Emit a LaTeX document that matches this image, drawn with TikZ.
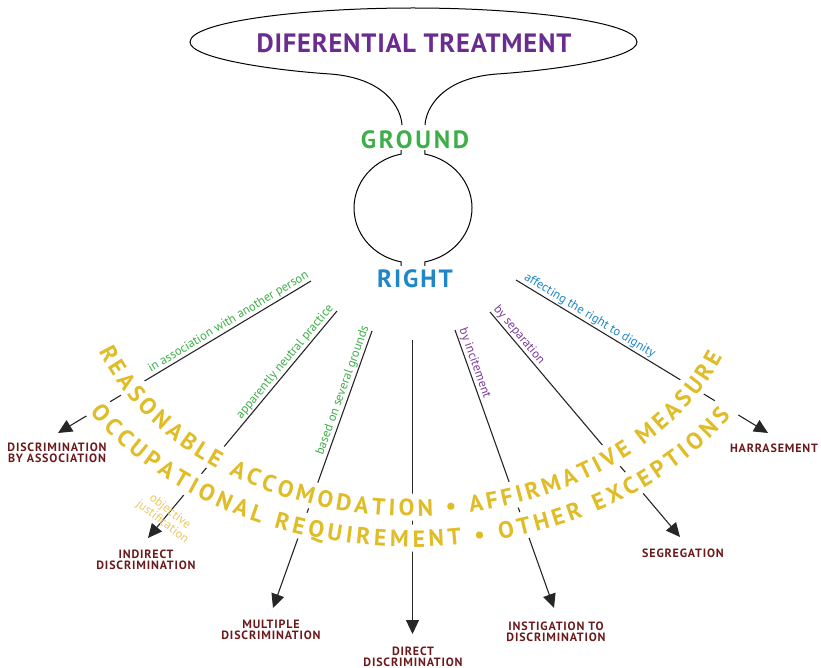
\documentclass[tikz,border=0pt]{standalone}
\usepackage{fontspec}
\setmainfont{PT Sans}
\newfontfamily\trackA[LetterSpace=3]{PT Sans}
\newfontfamily\trackB[LetterSpace=11]{PT Sans}
\newfontfamily\trackC[LetterSpace=8]{PT Sans}
\newfontfamily\trackR[LetterSpace=7]{PT Sans}
\usetikzlibrary{decorations.text,arrows.meta,calc}
\definecolor{ttl}{HTML}{6A2C8E}
\definecolor{grn}{HTML}{3DAE49}
\definecolor{blu}{HTML}{1D87C8}
\definecolor{resred}{HTML}{6B1A1C}
\definecolor{arcyel}{HTML}{E0BC26}
\definecolor{ltyel}{HTML}{E9C965}
\definecolor{pur}{HTML}{7B3B97}
\newcommand\arcfont{\bfseries\fontsize{23.5}{26}\selectfont}
\begin{document}
\begin{tikzpicture}[x=1pt,y=1pt,
  conn/.style={line width=1.1pt, black!85},
  arr/.style={conn, -{Triangle[length=14pt,width=13pt]}},
  halo/.style={white, line width=27pt},
  res/.style={font=\trackR\bfseries\fontsize{12}{11}\selectfont, text=resred, align=center, inner sep=0pt, anchor=north},
  lab/.style={font=\fontsize{12.5}{13}\selectfont, inner sep=1.5pt, anchor=south},
  big/.style={inner sep=0pt}
]
\useasboundingbox (0,0) rectangle (821,-668);

% balloon
\draw[line width=1pt] (402,-125) .. controls (401,-108) and (385,-78) .. (330,-74)
  .. controls (270,-70) and (190,-58) .. (190,-42)
  .. controls (190,-22) and (300,-8) .. (413,-8)
  .. controls (526,-8) and (637,-22) .. (637,-42)
  .. controls (637,-58) and (557,-70) .. (497,-74)
  .. controls (442,-78) and (426,-108) .. (425,-125);

% circle
\draw[line width=1pt] ([shift={(413,-208)}]101.5:59 and 55) ++(0,4) -- ++(0,-4)
  arc[start angle=101.5, end angle=258.5, x radius=59, y radius=55] -- ++(0,-4);
\draw[line width=1pt] ([shift={(413,-208)}]78.5:59 and 55) ++(0,4) -- ++(0,-4)
  arc[start angle=78.5, end angle=-78.5, x radius=59, y radius=55] -- ++(0,-4);

\node[big, text=ttl, font=\trackA\bfseries\fontsize{26.5}{30}\selectfont] (title) at (414,-43) {DIFERENTIAL TREATMENT};
\node[big, text=grn, font=\trackB\bfseries\fontsize{25}{30}\selectfont] (ground) at (415,-140) {GROUND};
\node[big, text=blu, font=\trackC\bfseries\fontsize{25}{30}\selectfont] (right) at (415,-279) {RIGHT};

% coordinates
\coordinate (s1) at (311,-281); \coordinate (t1) at (58,-433);
\coordinate (s2) at (337,-311); \coordinate (t2) at (148,-538);
\coordinate (s3) at (372,-331); \coordinate (t3) at (273,-608);
\coordinate (s4) at (412.5,-340); \coordinate (t4) at (412.5,-634);
\coordinate (s5) at (455,-330); \coordinate (t5) at (554,-608);
\coordinate (s6) at (490,-312); \coordinate (t6) at (680,-537);
\coordinate (s7) at (516,-280); \coordinate (t7) at (768,-433);

\foreach \i in {1,...,7} { \draw[arr] (s\i) -- (t\i); }

% white halos under arc text
\draw[halo] ([shift={(412,-261)}]197:326 and 246) arc[start angle=197, end angle=341, x radius=326, y radius=246];
\draw[halo] ([shift={(412,-261)}]208:371 and 277) arc[start angle=208, end angle=331, x radius=371, y radius=277];

% arc texts
\path[decorate, decoration={text along path, text={|\arcfont|REASONABLE ACCOMODATION • AFFIRMATIVE MEASURE}, text align={fit to path}, text color=arcyel}]
  ([shift={(412,-261)}]200.7:335 and 255) arc[start angle=200.7, end angle=338, x radius=335, y radius=255];
\path[decorate, decoration={text along path, text={|\arcfont|OCCUPATIONAL REQUIREMENT • OTHER EXCEPTIONS}, text align={fit to path}, text color=arcyel}]
  ([shift={(412,-261)}]212:380 and 286) arc[start angle=212, end angle=327, x radius=380, y radius=286];

% labels along lines
\path (t1) -- (s1) node[lab, text=grn, pos=0.689, rotate=31.0] (la1) {in association with another person};
\path (t2) -- (s2) node[lab, text=grn, pos=0.755, rotate=50.2] (la2) {apparently neutral practice};
\path (t3) -- (s3) node[lab, text=grn, pos=0.776, rotate=70.3] (la3) {based on several grounds};
\path (s5) -- (t5) node[lab, text=pur, pos=0.128, rotate=-70.4] (la5) {by incitement};
\path (s6) -- (t6) node[lab, text=pur, pos=0.123, rotate=-49.8] (la6) {by separation};
\path (s7) -- (t7) node[lab, text=blu, pos=0.277, rotate=-31.3] (la7) {affecting the right to dignity};

\node[font=\fontsize{12.5}{12.5}\selectfont, text=ltyel, align=center, rotate=-38, inner sep=0pt] (obj) at (166,-517) {objective\\justification};

% result labels
\node[res] (r1) at (57,-443) {DISCRIMINATION\\BY ASSOCIATION};
\node[res] (r2) at (146,-550) {INDIRECT\\DISCRIMINATION};
\node[res] (r3) at (271,-620) {MULTIPLE\\DISCRIMINATION};
\node[res] (r4) at (413,-647) {DIRECT\\DISCRIMINATION};
\node[res] (r5) at (556,-622) {INSTIGATION TO\\DISCRIMINATION};
\node[res] (r6) at (683,-549) {SEGREGATION};
\node[res] (r7) at (774,-444) {HARRASEMENT};
\end{tikzpicture}
\end{document}
